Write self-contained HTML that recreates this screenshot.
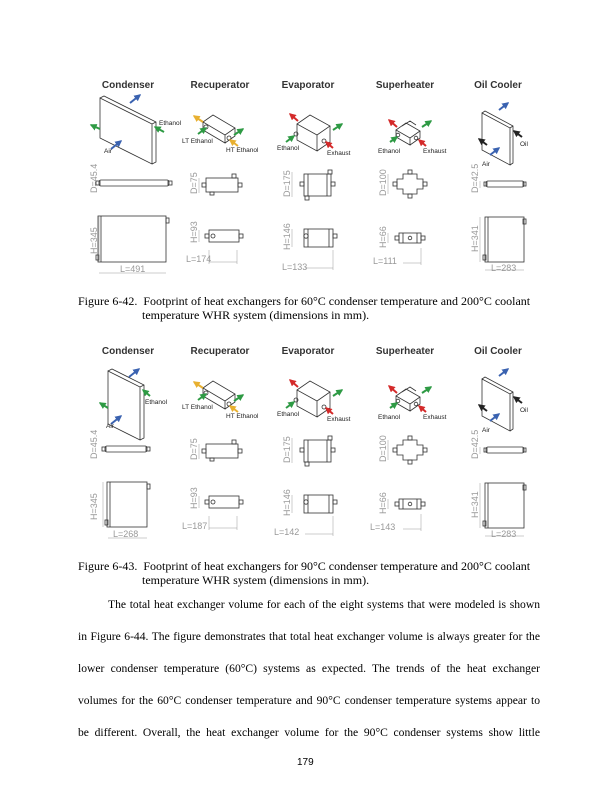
<!DOCTYPE html>
<html><head><meta charset="utf-8">
<style>
html,body{margin:0;padding:0;background:#fff;}
body{width:612px;height:792px;position:relative;overflow:hidden;}
.t{position:absolute;font-family:"Liberation Serif",serif;font-size:12px;color:#000;white-space:nowrap;}
.j{position:absolute;left:78px;width:462px;font-family:"Liberation Serif",serif;font-size:11.6px;text-align:justify;text-align-last:justify;white-space:nowrap;}
svg{position:absolute;left:0;top:0;}
</style></head><body>
<svg width="612" height="792" viewBox="0 0 612 792" font-family="Liberation Sans, sans-serif">
<defs>
<marker id="ab" viewBox="0 0 10 10" refX="8" refY="5" markerWidth="3.5" markerHeight="3.5" orient="auto"><path d="M0,0L10,5L0,10z" fill="#3a62b0"/></marker>
<marker id="ag" viewBox="0 0 10 10" refX="8" refY="5" markerWidth="3.5" markerHeight="3.5" orient="auto"><path d="M0,0L10,5L0,10z" fill="#2e9a44"/></marker>
<marker id="ar" viewBox="0 0 10 10" refX="8" refY="5" markerWidth="3.5" markerHeight="3.5" orient="auto"><path d="M0,0L10,5L0,10z" fill="#d42a2a"/></marker>
<marker id="ay" viewBox="0 0 10 10" refX="8" refY="5" markerWidth="3.5" markerHeight="3.5" orient="auto"><path d="M0,0L10,5L0,10z" fill="#e8b030"/></marker>
<marker id="ak" viewBox="0 0 10 10" refX="8" refY="5" markerWidth="3.5" markerHeight="3.5" orient="auto"><path d="M0,0L10,5L0,10z" fill="#222"/></marker>
<g id="common" fill="none" stroke="#333" stroke-width="0.8">
 <g font-size="10" font-weight="bold" fill="#333" stroke="none" text-anchor="middle">
  <text x="220" y="88">Recuperator</text><text x="308" y="88">Evaporator</text>
  <text x="405" y="88">Superheater</text><text x="498" y="88">Oil Cooler</text>
 </g>
 <path d="M203,122 L213,115 L235,128 L225,135 Z M203,122 L203,130 L225,143 L225,135 M235,128 L235,136 L225,143" fill="#fff"/>
 <circle cx="206" cy="127" r="2"/><circle cx="229" cy="138" r="2"/>
 <line x1="203" y1="122" x2="194" y2="116" stroke="#e8b030" stroke-width="2" marker-end="url(#ay)"/>
 <line x1="198" y1="134" x2="206" y2="128" stroke="#2e9a44" stroke-width="2" marker-end="url(#ag)"/>
 <line x1="234" y1="135" x2="243" y2="129" stroke="#2e9a44" stroke-width="2" marker-end="url(#ag)"/>
 <line x1="238" y1="146" x2="230" y2="140" stroke="#e8b030" stroke-width="2" marker-end="url(#ay)"/>
 <path d="M297,124 L310,115 L330,126 L317,135 Z M297,124 L297,140 L317,151 L317,135 M330,126 L330,142 L317,151" fill="#fff"/>
 <circle cx="296" cy="134" r="2"/><circle cx="324" cy="141" r="2"/>
 <line x1="298" y1="121" x2="290" y2="114" stroke="#d42a2a" stroke-width="2" marker-end="url(#ar)"/>
 <line x1="286" y1="142" x2="294" y2="136" stroke="#2e9a44" stroke-width="2" marker-end="url(#ag)"/>
 <line x1="333" y1="130" x2="342" y2="124" stroke="#2e9a44" stroke-width="2" marker-end="url(#ag)"/>
 <line x1="333" y1="148" x2="326" y2="142" stroke="#d42a2a" stroke-width="2" marker-end="url(#ar)"/>
 <path d="M396,130 L406,123 L420,131 L410,138 Z M396,130 L396,137 L410,145 L410,138 M420,131 L420,138 L410,145 M402,126 L410,121 L416,125" fill="#fff"/>
 <circle cx="398" cy="135" r="1.8"/><circle cx="416" cy="138" r="1.8"/>
 <line x1="397" y1="127" x2="389" y2="120" stroke="#d42a2a" stroke-width="2" marker-end="url(#ar)"/>
 <line x1="390" y1="142" x2="397" y2="137" stroke="#2e9a44" stroke-width="2" marker-end="url(#ag)"/>
 <line x1="422" y1="127" x2="431" y2="121" stroke="#2e9a44" stroke-width="2" marker-end="url(#ag)"/>
 <line x1="426" y1="146" x2="419" y2="140" stroke="#d42a2a" stroke-width="2" marker-end="url(#ar)"/>
 <path d="M482,113 L510,128 L510,165 L482,150 Z M482,113 L485,111 L513,126 L513,163 L510,165 M510,128 L513,126" fill="#fff"/>
 <line x1="499" y1="110" x2="508" y2="103" stroke="#3a62b0" stroke-width="2" marker-end="url(#ab)"/>
 <line x1="490" y1="155" x2="499" y2="148" stroke="#3a62b0" stroke-width="2" marker-end="url(#ab)"/>
 <line x1="487" y1="145" x2="479" y2="139" stroke="#222" stroke-width="2" marker-end="url(#ak)"/>
 <line x1="522" y1="137" x2="514" y2="131" stroke="#222" stroke-width="2" marker-end="url(#ak)"/>
 <g font-size="6.5" fill="#222" stroke="none">
  <text x="182" y="143">LT Ethanol</text><text x="226" y="152">HT Ethanol</text>
  <text x="277" y="150">Ethanol</text><text x="327" y="155">Exhaust</text>
  <text x="378" y="153">Ethanol</text><text x="423" y="153">Exhaust</text>
  <text x="482" y="166">Air</text><text x="520" y="146">Oil</text>
 </g>
 <rect x="206" y="178" width="32" height="14"/><rect x="202" y="183" width="4" height="4"/><rect x="238" y="183" width="4" height="4"/>
 <rect x="232" y="174" width="4" height="4"/><rect x="210" y="192" width="4" height="3"/>
 <rect x="209" y="230" width="30" height="12"/><rect x="205" y="234" width="4" height="4"/><rect x="239" y="234" width="4" height="4"/><circle cx="213" cy="236" r="2"/>
 <rect x="304" y="174" width="27" height="22"/><line x1="308" y1="174" x2="308" y2="196"/><line x1="327" y1="174" x2="327" y2="196"/>
 <rect x="300" y="182" width="4" height="4"/><rect x="331" y="182" width="4" height="4"/><rect x="328" y="170" width="4" height="4"/><rect x="305" y="196" width="4" height="4"/>
 <rect x="304" y="229" width="29" height="18"/><line x1="308" y1="229" x2="308" y2="247"/><line x1="329" y1="229" x2="329" y2="247"/>
 <circle cx="306" cy="236" r="2.2"/><rect x="333" y="234" width="4" height="4"/>
 <path d="M403,174 H417 V179 H423 V189 H417 V194 H403 V189 H397 V179 H403 Z"/>
 <rect x="393" y="182" width="4" height="4"/><rect x="423" y="182" width="4" height="4"/><rect x="408" y="170" width="4" height="4"/><rect x="408" y="194" width="4" height="4"/>
 <rect x="399" y="233" width="22" height="10"/><line x1="403" y1="233" x2="403" y2="243"/><line x1="417" y1="233" x2="417" y2="243"/><circle cx="410" cy="238" r="1.8"/>
 <rect x="395" y="236" width="4" height="4"/><rect x="421" y="236" width="4" height="4"/>
 <rect x="486" y="181" width="38" height="6" rx="2"/><rect x="484" y="182" width="3" height="4"/><rect x="523" y="182" width="3" height="4"/>
 <rect x="485" y="217" width="39" height="45"/><line x1="488" y1="217" x2="488" y2="262"/><rect x="523" y="219" width="3" height="5"/><rect x="483" y="255" width="3" height="5"/>
 <g stroke="#999" stroke-width="0.5">
  <line x1="199" y1="178" x2="199" y2="193"/><line x1="199" y1="230" x2="199" y2="242"/><line x1="209" y1="262" x2="237" y2="262"/><line x1="209" y1="250" x2="209" y2="264"/><line x1="237" y1="250" x2="237" y2="264"/>
  <line x1="292" y1="172" x2="292" y2="197"/><line x1="292" y1="229" x2="292" y2="247"/><line x1="305" y1="268" x2="333" y2="268"/><line x1="333" y1="250" x2="333" y2="270"/>
  <line x1="388" y1="174" x2="388" y2="194"/><line x1="388" y1="233" x2="388" y2="243"/><line x1="403" y1="263" x2="421" y2="263"/><line x1="421" y1="248" x2="421" y2="265"/>
  <line x1="480" y1="181" x2="480" y2="188"/><line x1="480" y1="217" x2="480" y2="262"/><line x1="485" y1="270" x2="524" y2="270"/>
 </g>
 <g font-size="9" fill="#999" stroke="none">
  <text transform="translate(197,194) rotate(-90)">D=75</text>
  <text transform="translate(290,197) rotate(-90)">D=175</text>
  <text transform="translate(386,196) rotate(-90)">D=100</text>
  <text transform="translate(478,193) rotate(-90)">D=42.5</text>
  <text transform="translate(197,243) rotate(-90)">H=93</text>
  <text transform="translate(290,250) rotate(-90)">H=146</text>
  <text transform="translate(386,248) rotate(-90)">H=66</text>
  <text transform="translate(478,252) rotate(-90)">H=341</text>
  <text x="491" y="271">L=283</text>
 </g>
 <g font-size="9" fill="#999" stroke="none">
  <text transform="translate(97,193) rotate(-90)">D=45.4</text>
  <text transform="translate(97,254) rotate(-90)">H=345</text>
 </g>
</g>
</defs>

<!-- FIGURE 1 -->
<use href="#common"/>
<g fill="none" stroke="#333" stroke-width="0.8">
 <text x="128" y="88" font-size="10" font-weight="bold" fill="#333" stroke="none" text-anchor="middle">Condenser</text>
 <path d="M100,98 L152,124 L152,164 L100,138 Z M100,98 L104,96 L156,122 L156,162 L152,164 M152,124 L156,122" fill="#fff"/>
 <line x1="130" y1="103" x2="140" y2="95" stroke="#3a62b0" stroke-width="2" marker-end="url(#ab)"/>
 <line x1="111" y1="149" x2="121" y2="141" stroke="#3a62b0" stroke-width="2" marker-end="url(#ab)"/>
 <line x1="100" y1="129" x2="91" y2="125" stroke="#2e9a44" stroke-width="2" marker-end="url(#ag)"/>
 <line x1="164" y1="132" x2="155" y2="127" stroke="#2e9a44" stroke-width="2" marker-end="url(#ag)"/>
 <text x="159" y="125" font-size="6.5" fill="#222" stroke="none">Ethanol</text>
 <text x="104" y="153" font-size="6.5" fill="#222" stroke="none">Air</text>
 <rect x="99" y="180" width="70" height="6" rx="2"/><rect x="96" y="181" width="4" height="4"/><rect x="168" y="181" width="4" height="4"/>
 <rect x="98" y="216" width="68" height="46"/><line x1="101" y1="216" x2="101" y2="262"/><rect x="166" y="218" width="3" height="5"/><rect x="96" y="255" width="3" height="5"/>
 <g stroke="#999" stroke-width="0.5"><line x1="99" y1="273" x2="166" y2="273"/><line x1="99" y1="216" x2="99" y2="262"/></g>
 <text x="120" y="272" font-size="9" fill="#999" stroke="none">L=491</text>
 <g font-size="9" fill="#999" stroke="none">
  <text x="186" y="262">L=174</text><text x="282" y="270">L=133</text><text x="373" y="264">L=111</text>
 </g>
</g>

<!-- FIGURE 2 -->
<use href="#common" transform="translate(0,266)"/>
<g fill="none" stroke="#333" stroke-width="0.8" transform="translate(0,4)">
 <text x="128" y="350" font-size="10" font-weight="bold" fill="#333" stroke="none" text-anchor="middle">Condenser</text>
 <path d="M108,367 L140,383 L140,436 L108,420 Z M108,367 L112,365 L144,381 L144,434 L140,436 M140,383 L144,381" fill="#fff"/>
 <line x1="129" y1="373" x2="139" y2="365" stroke="#3a62b0" stroke-width="2" marker-end="url(#ab)"/>
 <line x1="111" y1="420" x2="121" y2="412" stroke="#3a62b0" stroke-width="2" marker-end="url(#ab)"/>
 <line x1="108" y1="404" x2="100" y2="399" stroke="#2e9a44" stroke-width="2" marker-end="url(#ag)"/>
 <line x1="150" y1="392" x2="143" y2="386" stroke="#2e9a44" stroke-width="2" marker-end="url(#ag)"/>
 <text x="145" y="400" font-size="6.5" fill="#222" stroke="none">Ethanol</text>
 <text x="106" y="424" font-size="6.5" fill="#222" stroke="none">Air</text>
 <rect x="105" y="442" width="42" height="6" rx="2"/><rect x="102" y="443" width="4" height="4"/><rect x="146" y="443" width="4" height="4"/>
 <rect x="107" y="478" width="40" height="45"/><line x1="110" y1="478" x2="110" y2="523"/><rect x="147" y="480" width="3" height="5"/><rect x="105" y="516" width="3" height="5"/>
 <g stroke="#999" stroke-width="0.5"><line x1="108" y1="534" x2="147" y2="534"/><line x1="103" y1="478" x2="103" y2="523"/></g>
 <text x="113" y="533" font-size="9" fill="#999" stroke="none">L=268</text>
 <g font-size="9" fill="#999" stroke="none">
  <text x="182" y="525">L=187</text><text x="274" y="531">L=142</text><text x="370" y="526">L=143</text>
 </g>
</g>
</svg>

<div class="t" style="left:78px;top:294px;">Figure 6-42.&nbsp; Footprint of heat exchangers for 60°C condenser temperature and 200°C coolant</div>
<div class="t" style="left:142px;top:308px;">temperature WHR system (dimensions in mm).</div>
<div class="t" style="left:78px;top:559px;">Figure 6-43.&nbsp; Footprint of heat exchangers for 90°C condenser temperature and 200°C coolant</div>
<div class="t" style="left:142px;top:573px;">temperature WHR system (dimensions in mm).</div>

<div class="j" style="top:598px;left:108px;width:432px;">The total heat exchanger volume for each of the eight systems that were modeled is shown</div>
<div class="j" style="top:630px;">in Figure 6-44. The figure demonstrates that total heat exchanger volume is always greater for the</div>
<div class="j" style="top:662px;">lower condenser temperature (60°C) systems as expected. The trends of the heat exchanger</div>
<div class="j" style="top:694px;">volumes for the 60°C condenser temperature and 90°C condenser temperature systems appear to</div>
<div class="j" style="top:726px;">be different. Overall, the heat exchanger volume for the 90°C condenser systems show little</div>
<div class="t" style="left:297px;top:757px;font-family:'Liberation Sans',sans-serif;font-size:10px;">179</div>
</body></html>
